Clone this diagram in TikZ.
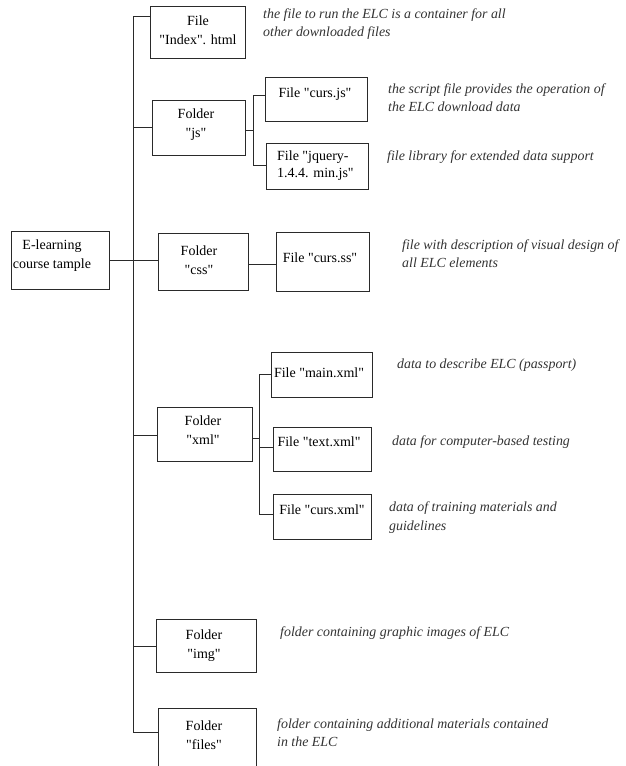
\documentclass[tikz,border=0pt]{standalone}
\usepackage{fontspec}
\setmainfont{Liberation Serif}[Ligatures=TeXOff]
\definecolor{linec}{HTML}{2A2A2A}
\definecolor{descc}{HTML}{333333}
\newcommand\dq{"}
\newcommand\mybox[5]{\node[box, minimum width={(#4-#2)*1pt}, minimum height={(#5-#3)*1pt}] (#1) at ({(#2+#4)/2},{(#3+#5)/2}) {};}
\begin{document}
\begin{tikzpicture}[x=1pt,y=-1pt,
  box/.style={draw=linec, line width=0.9pt, inner sep=0pt},
  lbl/.style={font=\fontsize{14}{19}\selectfont, align=center, inner sep=0pt, text=black},
  lbll/.style={font=\fontsize{14}{17}\selectfont, align=left, anchor=west, inner sep=0pt, text=black},
  desc/.style={font=\fontsize{13.9}{18.5}\selectfont\itshape, align=left, anchor=west, inner sep=0pt, text=descc},
  wire/.style={draw=linec, line width=0.9pt}]
\clip (0,0) rectangle (625,766);
\fill[white] (0,0) rectangle (625,766);
% boxes
\mybox{index}{150}{6}{245}{58}
\mybox{js}{152}{100}{245}{155}
\mybox{cursjs}{265}{77}{367}{121}
\mybox{jquery}{266}{143}{368}{189}
\mybox{root}{11}{231}{109}{289}
\mybox{css}{158}{233}{248}{290}
\mybox{cursss}{276}{232}{369}{291}
\mybox{xml}{157}{407}{252}{461}
\mybox{mainxml}{271}{352}{372}{397}
\mybox{textxml}{273}{427}{371}{471}
\mybox{cursxml}{273}{494}{371}{539}
\mybox{img}{156}{619}{256}{672}
\mybox{files}{158}{708}{256}{800}
% box texts
\node[lbl] (indexT) at (198,30) {File\\\dq Index\dq. html};
\node[lbl] (jsT) at (196,125) {Folder\\\dq js\dq};
\node[lbl] (cursjsT) at (315,94) {File \dq curs.js\dq};
\node[lbll] (jqueryT) at (277,165.5) {File \dq jquery-\\1.4.4. min.js\dq};
\node[lbl] (rootT) at (52,256) {E-learning\\course tample};
\node[lbl] (cssT) at (199,260) {Folder\\\dq css\dq};
\node[lbl] (cursssT) at (320,258) {File \dq curs.ss\dq};
\node[lbl] (xmlT) at (203,430.5) {Folder\\\dq xml\dq};
\node[lbl] (mainxmlT) at (319,373) {File \dq main.xml\dq};
\node[lbl] (textxmlT) at (319,442) {File \dq text.xml\dq};
\node[lbl] (cursxmlT) at (322,510) {File \dq curs.xml\dq};
\node[lbl] (imgT) at (204,645.5) {Folder\\\dq img\dq};
\node[lbl] (filesT) at (204,735) {Folder\\\dq files\dq};
% descriptions
\node[desc] (d1) at (263,24) {the file to run the ELC is a container for all\\other downloaded files};
\node[desc] (d2) at (388,97.5) {the script file provides the operation of\\the ELC download data};
\node[desc] (d3) at (387,157) {file library for extended data support};
\node[desc] (d4) at (402,253.5) {file with description of visual design of\\all ELC elements};
\node[desc] (d5) at (397,365) {data to describe ELC (passport)};
\node[desc] (d6) at (392,442) {data for computer-based testing};
\node[desc] (d7) at (389,517.5) {data of training materials and\\guidelines};
\node[desc] (d8) at (280,633) {folder containing graphic images of ELC};
\node[desc] (d9) at (277,732.5) {folder containing additional materials contained\\in the ELC};
% trunk
\coordinate (tTop) at (133,16);
\coordinate (tBot) at (133,732);
\draw[wire] (tTop) -- (tBot);
\draw[wire] (tTop) -- (tTop -| index.west);
\draw[wire] (js.west -| tTop) -- (js.west);
\draw[wire] (root.east) -- (root.east -| css.west);
\draw[wire] (133,435) coordinate (xmlc) -- (xmlc -| xml.west);
\draw[wire] (133,646) coordinate (imgc) -- (imgc -| img.west);
\draw[wire] (tBot) -- (tBot -| files.west);
% js sub-bus
\coordinate (jsb) at (253,130);
\coordinate (jsb1) at (253,95);
\coordinate (jsb2) at (253,165);
\draw[wire] (jsb -| js.east) -- (jsb);
\draw[wire] (jsb1) -- (jsb2);
\draw[wire] (jsb1) -- (jsb1 -| cursjs.west);
\draw[wire] (jsb2) -- (jsb2 -| jquery.west);
% css
\coordinate (cssc) at (250,264);
\draw[wire] (cssc -| css.east) -- (cssc -| cursss.west);
% xml sub-bus
\coordinate (xb) at (259,438);
\coordinate (xb1) at (259,374);
\coordinate (xb2) at (259,447);
\coordinate (xb3) at (259,514);
\draw[wire] (xb -| xml.east) -- (xb);
\draw[wire] (xb1) -- (xb3);
\draw[wire] (xb1) -- (xb1 -| mainxml.west);
\draw[wire] (xb2) -- (xb2 -| textxml.west);
\draw[wire] (xb3) -- (xb3 -| cursxml.west);
\end{tikzpicture}
\end{document}
